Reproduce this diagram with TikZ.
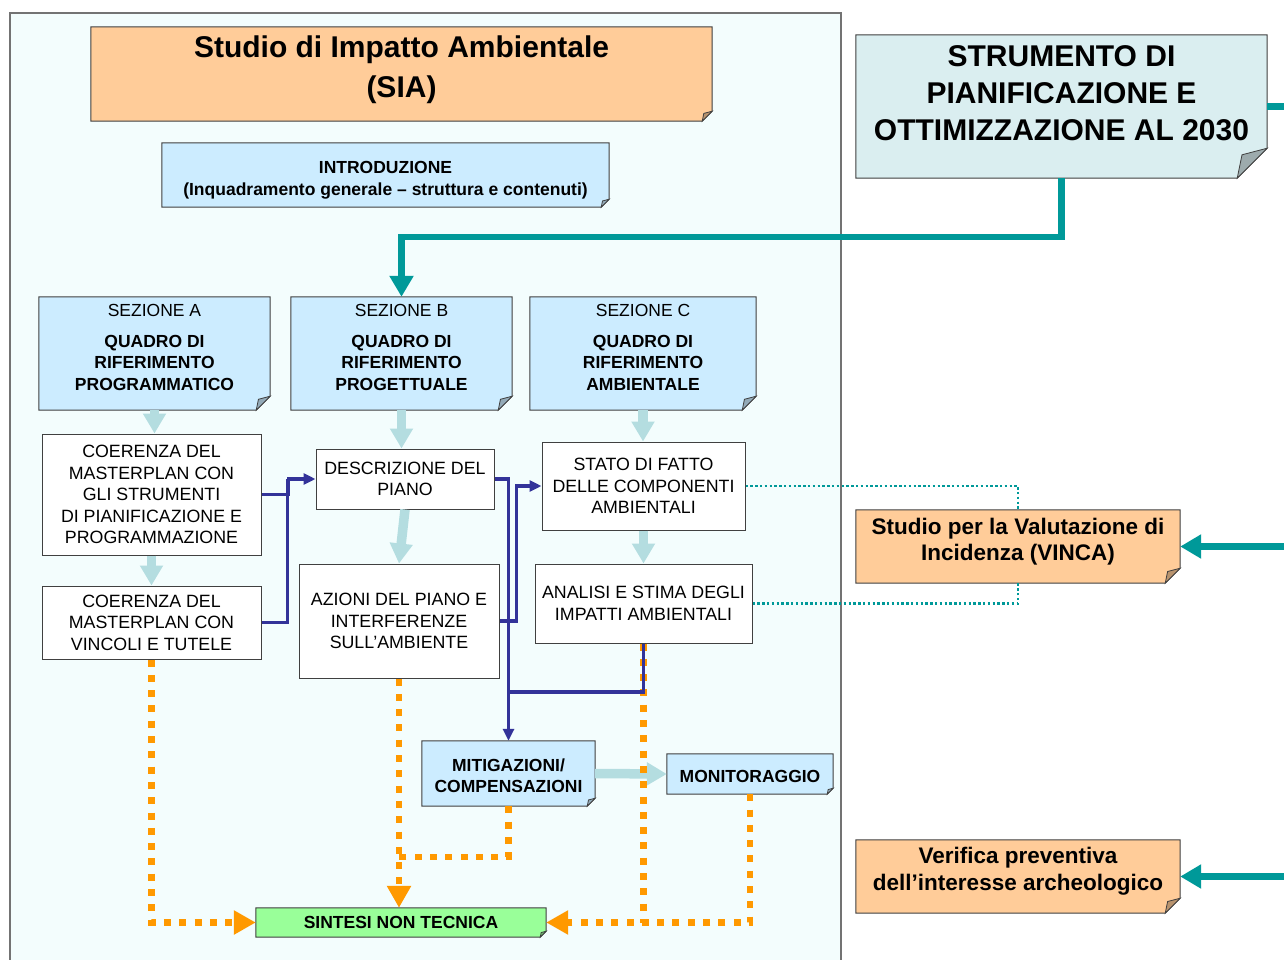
\documentclass[tikz,border=0pt]{standalone}
\usepackage{fontspec}
\setmainfont{Liberation Sans}
\usetikzlibrary{arrows.meta,calc}
\pgfdeclarelayer{bg}\pgfdeclarelayer{boxes}
\pgfsetlayers{bg,boxes,main}
\definecolor{panelbg}{HTML}{F3FDFD}
\definecolor{peach}{HTML}{FFCC99}
\definecolor{lblue}{HTML}{CCECFF}
\definecolor{strumbg}{HTML}{DAEEF0}
\definecolor{tealc}{HTML}{009999}
\definecolor{lightarr}{HTML}{B4DDE0}
\definecolor{dblue}{HTML}{333399}
\definecolor{orangec}{HTML}{FF9900}
\definecolor{greenc}{HTML}{99FF99}
\newcommand\fsz[2]{\fontsize{#1}{#2}\selectfont}
% name, text options, centre, width, height, fill, fold size, text shift (up), text
\newcommand\foldnode[9]{%
  \node[inner sep=0pt, minimum width=#4pt, minimum height=#5pt] (#1) at #3 {};
  \node[inner sep=0pt, align=center, #2] (#1-t) at ([yshift=#8pt]#1.center) {#9};
  \begin{pgfonlayer}{boxes}
  \filldraw[fill=#6, draw=black!75, line width=1pt] (#1.north west) -- (#1.north east) -- ([yshift=#7pt]#1.south east) -- ([xshift=-#7pt]#1.south east) -- (#1.south west) -- cycle;
  \filldraw[fill=#6!72!black, draw=black!75, line width=0.8pt] ([yshift=#7pt]#1.south east) -- ([xshift=-#7pt]#1.south east) -- ([xshift=-0.84*#7pt, yshift=0.78*#7pt]#1.south east) -- cycle;
  \end{pgfonlayer}}
\tikzset{
 wbox/.style={draw=black!75, fill=white, line width=1pt, inner sep=0pt, align=center, font=\fsz{17.8}{21.5}},
 secfont/.style={font=\fsz{17.5}{21.5}},
 lightarrow/.style={draw=lightarr, line width=9.5pt, -{Triangle[width=22pt,length=20pt]}},
 tealarrow/.style={draw=tealc, line width=6.5pt, -{Triangle[width=23pt,length=21pt]}},
 tealline/.style={draw=tealc, line width=6.5pt},
 bluearrow/.style={draw=dblue, line width=3.2pt, -{Triangle[width=11pt,length=12pt]}},
 blueline/.style={draw=dblue, line width=3.2pt},
 orangeline/.style={draw=orangec, line width=6.5pt, dash pattern=on 7pt off 8.3pt},
 orangearrow/.style={orangeline, -{Triangle[width=23pt,length=22pt]}},
 tealdots/.style={draw=tealc, line width=2.5pt, dash pattern=on 2.4pt off 2.4pt},
}
\begin{document}
\begin{tikzpicture}[x=1pt,y=-1pt]
\useasboundingbox (0,0) rectangle (1284,960);
\begin{pgfonlayer}{bg}
\fill[white] (0,0) rectangle (1284,960);
\filldraw[fill=panelbg, draw=black!55, line width=1.5pt] (10,13) rectangle (841,975);
\end{pgfonlayer}

\foldnode{sia}{font=\bfseries\fsz{30}{40}}{(401.5,74)}{621}{94}{peach}{10}{4}{Studio di Impatto Ambientale\\(SIA)}
\foldnode{intro}{font=\bfseries\fsz{17.5}{22}}{(385.5,175)}{447}{64}{lblue}{8}{-5}{INTRODUZIONE\\(Inquadramento generale – struttura e contenuti)}
\foldnode{strum}{font=\bfseries\fsz{30}{37}}{(1061.5,106.5)}{411}{143}{strumbg}{30}{13.5}{STRUMENTO DI\\PIANIFICAZIONE E\\OTTIMIZZAZIONE AL 2030}
\foldnode{secA}{secfont}{(154.5,353.5)}{231}{113}{lblue}{14}{6.5}{SEZIONE A\\[9.5pt]\textbf{QUADRO DI}\\\textbf{RIFERIMENTO}\\\textbf{PROGRAMMATICO}}
\foldnode{secB}{secfont}{(401.5,353.5)}{221}{113}{lblue}{14}{6.5}{SEZIONE B\\[9.5pt]\textbf{QUADRO DI}\\\textbf{RIFERIMENTO}\\\textbf{PROGETTUALE}}
\foldnode{secC}{secfont}{(643,353.5)}{226}{113}{lblue}{14}{6.5}{SEZIONE C\\[9.5pt]\textbf{QUADRO DI}\\\textbf{RIFERIMENTO}\\\textbf{AMBIENTALE}}

\node[wbox, minimum width=219pt, minimum height=121pt] (coe1) at (151.5,494.5) {COERENZA DEL\\MASTERPLAN CON\\GLI STRUMENTI\\DI PIANIFICAZIONE E\\PROGRAMMAZIONE};
\node[wbox, minimum width=219pt, minimum height=73pt] (coe2) at (151.5,622.5) {COERENZA DEL\\MASTERPLAN CON\\VINCOLI E TUTELE};
\node[wbox, minimum width=178pt, minimum height=60pt] (descr) at (405,479) {DESCRIZIONE DEL\\PIANO};
\node[wbox, minimum width=200pt, minimum height=114pt] (azioni) at (399,621) {AZIONI DEL PIANO E\\INTERFERENZE\\SULL’AMBIENTE};
\node[wbox, minimum width=203pt, minimum height=88pt] (stato) at (643.5,486) {STATO DI FATTO\\DELLE COMPONENTI\\AMBIENTALI};
\node[wbox, minimum width=217pt, minimum height=79pt] (analisi) at (643.5,603.5) {ANALISI E STIMA DEGLI\\IMPATTI AMBIENTALI};

\foldnode{mitig}{font=\bfseries\fsz{17.5}{21}}{(508.5,773.5)}{173}{65}{lblue}{8}{-2}{MITIGAZIONI/\\COMPENSAZIONI}
\foldnode{monit}{font=\bfseries\fsz{17.5}{21}}{(750,774)}{166}{40}{lblue}{6}{-2.5}{MONITORAGGIO}
\foldnode{sintesi}{font=\bfseries\fsz{17.5}{21}}{(401,922.5)}{290}{29}{greenc}{6}{0.5}{SINTESI NON TECNICA}
\foldnode{vinca}{font=\bfseries\fsz{22.5}{26}}{(1018,546.5)}{324}{73}{peach}{15}{4.6}{Studio per la Valutazione di\\Incidenza (VINCA)}
\foldnode{verif}{font=\bfseries\fsz{22.5}{27}}{(1018,876.5)}{324}{73}{peach}{15}{5}{Verifica preventiva\\dell’interesse archeologico}

\coordinate (r1) at (1290,106.5);
\coordinate (r2) at (1290,546.5);
\coordinate (r3) at (1290,876.5);
\coordinate (j2) at (508.5,692);
\coordinate (j3) at (399,857);

% teal connectors
\draw[tealline] (strum.east) -- (r1);
\draw[tealarrow] (strum.south) -- ++(0,59) -| (secB.north);
\draw[tealarrow] (r2) -- (vinca.east);
\draw[tealarrow] (r3) -- (verif.east);

% light arrows
\draw[lightarrow] (secA.south) -- (secA.south |- coe1.north);
\draw[lightarrow] (coe1.south) -- (coe2.north);
\draw[lightarrow] (secB.south) -- (secB.south |- descr.north);
\draw[lightarrow] (descr.south) -- (azioni.north);
\draw[lightarrow] (secC.south) -- (secC.south |- stato.north);
\draw[lightarrow] (stato.south) -- (analisi.north);
\draw[lightarrow] (mitig.east) -- (monit.west);

% orange dotted
\draw[orangearrow] (coe2.south) |- (sintesi.west);
\draw[orangearrow] (azioni.south) -- (azioni.south |- sintesi.north);
\draw[orangeline] (mitig.south) |- (j3);
\draw[orangeline] (analisi.south) -- (analisi.south |- sintesi.east);
\draw[orangearrow] (monit.south) |- (sintesi.east);

% dark blue
\draw[bluearrow] (coe1.east) -- ++(27,0) |- (descr.west);
\draw[blueline] (coe2.east) -| ([xshift=-28pt]descr.west);
\draw[bluearrow] (descr.east) -| (mitig.north);
\draw[bluearrow] (azioni.east) -- ++(17,0) |- (stato.west);
\draw[blueline] (analisi.south) |- (j2);

% teal dotted
\draw[tealdots] (stato.east) -| (vinca.north);
\draw[tealdots] (analisi.east) -| (vinca.south);
\end{tikzpicture}
\end{document}
